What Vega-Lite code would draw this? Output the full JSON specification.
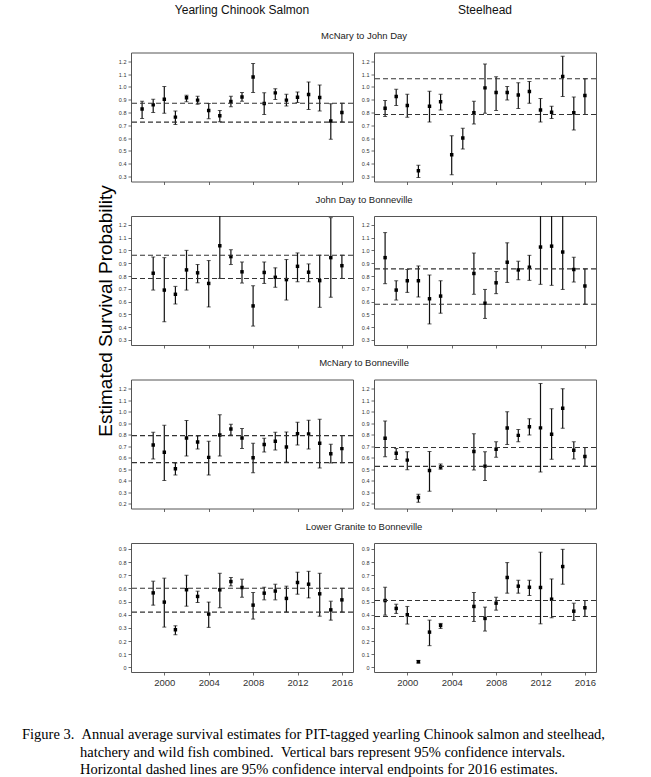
{
  "$schema": "https://vega.github.io/schema/vega-lite/v6.json",
  "padding": {"left": 22, "top": 4, "right": 5, "bottom": 0},
  "background": "white",
  "datasets": {
    "est": [
      {"sp":"C","r":"MJ","year":1998,"est":0.827,"lo":0.754,"hi":0.889},
      {"sp":"C","r":"MJ","year":1999,"est":0.86,"lo":0.80,"hi":0.904},
      {"sp":"C","r":"MJ","year":2000,"est":0.904,"lo":0.795,"hi":1.003},
      {"sp":"C","r":"MJ","year":2001,"est":0.764,"lo":0.707,"hi":0.811},
      {"sp":"C","r":"MJ","year":2002,"est":0.915,"lo":0.884,"hi":0.935},
      {"sp":"C","r":"MJ","year":2003,"est":0.897,"lo":0.865,"hi":0.928},
      {"sp":"C","r":"MJ","year":2004,"est":0.816,"lo":0.751,"hi":0.871},
      {"sp":"C","r":"MJ","year":2005,"est":0.775,"lo":0.728,"hi":0.816},
      {"sp":"C","r":"MJ","year":2006,"est":0.886,"lo":0.845,"hi":0.928},
      {"sp":"C","r":"MJ","year":2007,"est":0.922,"lo":0.889,"hi":0.956},
      {"sp":"C","r":"MJ","year":2008,"est":1.078,"lo":0.956,"hi":1.184},
      {"sp":"C","r":"MJ","year":2009,"est":0.871,"lo":0.785,"hi":0.954},
      {"sp":"C","r":"MJ","year":2010,"est":0.954,"lo":0.902,"hi":0.987},
      {"sp":"C","r":"MJ","year":2011,"est":0.897,"lo":0.852,"hi":0.943},
      {"sp":"C","r":"MJ","year":2012,"est":0.92,"lo":0.878,"hi":0.961},
      {"sp":"C","r":"MJ","year":2013,"est":0.941,"lo":0.824,"hi":1.039},
      {"sp":"C","r":"MJ","year":2014,"est":0.917,"lo":0.811,"hi":1.016},
      {"sp":"C","r":"MJ","year":2015,"est":0.733,"lo":0.59,"hi":0.868},
      {"sp":"C","r":"MJ","year":2016,"est":0.80,"lo":0.725,"hi":0.873},

      {"sp":"S","r":"MJ","year":1998,"est":0.834,"lo":0.769,"hi":0.894},
      {"sp":"S","r":"MJ","year":1999,"est":0.925,"lo":0.855,"hi":0.982},
      {"sp":"S","r":"MJ","year":2000,"est":0.855,"lo":0.764,"hi":0.943},
      {"sp":"S","r":"MJ","year":2001,"est":0.344,"lo":0.292,"hi":0.388},
      {"sp":"S","r":"MJ","year":2002,"est":0.85,"lo":0.725,"hi":0.967},
      {"sp":"S","r":"MJ","year":2003,"est":0.884,"lo":0.819,"hi":0.943},
      {"sp":"S","r":"MJ","year":2004,"est":0.469,"lo":0.313,"hi":0.619},
      {"sp":"S","r":"MJ","year":2005,"est":0.601,"lo":0.515,"hi":0.676},
      {"sp":"S","r":"MJ","year":2006,"est":0.798,"lo":0.71,"hi":0.889},
      {"sp":"S","r":"MJ","year":2007,"est":0.993,"lo":0.795,"hi":1.179},
      {"sp":"S","r":"MJ","year":2008,"est":0.956,"lo":0.816,"hi":1.081},
      {"sp":"S","r":"MJ","year":2009,"est":0.956,"lo":0.899,"hi":1.003},
      {"sp":"S","r":"MJ","year":2010,"est":0.938,"lo":0.832,"hi":1.034},
      {"sp":"S","r":"MJ","year":2011,"est":0.964,"lo":0.873,"hi":1.042},
      {"sp":"S","r":"MJ","year":2012,"est":0.819,"lo":0.725,"hi":0.91},
      {"sp":"S","r":"MJ","year":2013,"est":0.803,"lo":0.754,"hi":0.85},
      {"sp":"S","r":"MJ","year":2014,"est":1.083,"lo":0.925,"hi":1.241},
      {"sp":"S","r":"MJ","year":2015,"est":0.798,"lo":0.663,"hi":0.922},
      {"sp":"S","r":"MJ","year":2016,"est":0.933,"lo":0.785,"hi":1.065},

      {"sp":"C","r":"JB","year":1999,"est":0.822,"lo":0.69,"hi":0.949},
      {"sp":"C","r":"JB","year":2000,"est":0.69,"lo":0.442,"hi":0.944},
      {"sp":"C","r":"JB","year":2001,"est":0.657,"lo":0.581,"hi":0.719},
      {"sp":"C","r":"JB","year":2002,"est":0.848,"lo":0.69,"hi":1.001},
      {"sp":"C","r":"JB","year":2003,"est":0.825,"lo":0.747,"hi":0.89},
      {"sp":"C","r":"JB","year":2004,"est":0.742,"lo":0.558,"hi":0.921},
      {"sp":"C","r":"JB","year":2005,"est":1.037,"lo":0.781,"hi":1.30},
      {"sp":"C","r":"JB","year":2006,"est":0.952,"lo":0.89,"hi":1.006},
      {"sp":"C","r":"JB","year":2007,"est":0.833,"lo":0.745,"hi":0.91},
      {"sp":"C","r":"JB","year":2008,"est":0.566,"lo":0.408,"hi":0.724},
      {"sp":"C","r":"JB","year":2009,"est":0.828,"lo":0.742,"hi":0.91},
      {"sp":"C","r":"JB","year":2010,"est":0.79,"lo":0.712,"hi":0.864},
      {"sp":"C","r":"JB","year":2011,"est":0.772,"lo":0.612,"hi":0.929},
      {"sp":"C","r":"JB","year":2012,"est":0.876,"lo":0.755,"hi":0.981},
      {"sp":"C","r":"JB","year":2013,"est":0.83,"lo":0.755,"hi":0.895},
      {"sp":"C","r":"JB","year":2014,"est":0.764,"lo":0.555,"hi":0.963},
      {"sp":"C","r":"JB","year":2015,"est":0.944,"lo":0.634,"hi":1.257},
      {"sp":"C","r":"JB","year":2016,"est":0.881,"lo":0.781,"hi":0.963},

      {"sp":"S","r":"JB","year":1998,"est":0.944,"lo":0.74,"hi":1.14},
      {"sp":"S","r":"JB","year":1999,"est":0.69,"lo":0.612,"hi":0.763},
      {"sp":"S","r":"JB","year":2000,"est":0.763,"lo":0.672,"hi":0.851},
      {"sp":"S","r":"JB","year":2001,"est":0.763,"lo":0.636,"hi":0.879},
      {"sp":"S","r":"JB","year":2002,"est":0.622,"lo":0.425,"hi":0.808},
      {"sp":"S","r":"JB","year":2003,"est":0.643,"lo":0.509,"hi":0.763},
      {"sp":"S","r":"JB","year":2006,"est":0.82,"lo":0.657,"hi":0.98},
      {"sp":"S","r":"JB","year":2007,"est":0.587,"lo":0.468,"hi":0.695},
      {"sp":"S","r":"JB","year":2008,"est":0.747,"lo":0.662,"hi":0.835},
      {"sp":"S","r":"JB","year":2009,"est":0.908,"lo":0.75,"hi":1.06},
      {"sp":"S","r":"JB","year":2010,"est":0.848,"lo":0.771,"hi":0.916},
      {"sp":"S","r":"JB","year":2011,"est":0.869,"lo":0.766,"hi":0.962},
      {"sp":"S","r":"JB","year":2012,"est":1.027,"lo":0.735,"hi":1.30},
      {"sp":"S","r":"JB","year":2013,"est":1.034,"lo":0.727,"hi":1.30},
      {"sp":"S","r":"JB","year":2014,"est":0.988,"lo":0.695,"hi":1.30},
      {"sp":"S","r":"JB","year":2015,"est":0.851,"lo":0.753,"hi":0.947},
      {"sp":"S","r":"JB","year":2016,"est":0.722,"lo":0.579,"hi":0.856},

      {"sp":"C","r":"MB","year":1999,"est":0.712,"lo":0.59,"hi":0.822},
      {"sp":"C","r":"MB","year":2000,"est":0.648,"lo":0.403,"hi":0.883},
      {"sp":"C","r":"MB","year":2001,"est":0.505,"lo":0.45,"hi":0.555},
      {"sp":"C","r":"MB","year":2002,"est":0.773,"lo":0.616,"hi":0.924},
      {"sp":"C","r":"MB","year":2003,"est":0.738,"lo":0.677,"hi":0.79},
      {"sp":"C","r":"MB","year":2004,"est":0.604,"lo":0.45,"hi":0.744},
      {"sp":"C","r":"MB","year":2005,"est":0.799,"lo":0.616,"hi":0.973},
      {"sp":"C","r":"MB","year":2006,"est":0.851,"lo":0.799,"hi":0.892},
      {"sp":"C","r":"MB","year":2007,"est":0.773,"lo":0.68,"hi":0.854},
      {"sp":"C","r":"MB","year":2008,"est":0.601,"lo":0.47,"hi":0.726},
      {"sp":"C","r":"MB","year":2009,"est":0.715,"lo":0.651,"hi":0.77},
      {"sp":"C","r":"MB","year":2010,"est":0.744,"lo":0.668,"hi":0.822},
      {"sp":"C","r":"MB","year":2011,"est":0.694,"lo":0.563,"hi":0.825},
      {"sp":"C","r":"MB","year":2012,"est":0.81,"lo":0.712,"hi":0.909},
      {"sp":"C","r":"MB","year":2013,"est":0.808,"lo":0.677,"hi":0.927},
      {"sp":"C","r":"MB","year":2014,"est":0.726,"lo":0.511,"hi":0.935},
      {"sp":"C","r":"MB","year":2015,"est":0.636,"lo":0.555,"hi":0.717},
      {"sp":"C","r":"MB","year":2016,"est":0.68,"lo":0.558,"hi":0.793},

      {"sp":"S","r":"MB","year":1998,"est":0.77,"lo":0.61,"hi":0.92},
      {"sp":"S","r":"MB","year":1999,"est":0.64,"lo":0.586,"hi":0.68},
      {"sp":"S","r":"MB","year":2000,"est":0.58,"lo":0.496,"hi":0.652},
      {"sp":"S","r":"MB","year":2001,"est":0.255,"lo":0.215,"hi":0.284},
      {"sp":"S","r":"MB","year":2002,"est":0.49,"lo":0.31,"hi":0.655},
      {"sp":"S","r":"MB","year":2003,"est":0.52,"lo":0.5,"hi":0.546},
      {"sp":"S","r":"MB","year":2006,"est":0.655,"lo":0.494,"hi":0.81},
      {"sp":"S","r":"MB","year":2007,"est":0.528,"lo":0.403,"hi":0.653},
      {"sp":"S","r":"MB","year":2008,"est":0.675,"lo":0.604,"hi":0.74},
      {"sp":"S","r":"MB","year":2009,"est":0.858,"lo":0.715,"hi":1.0},
      {"sp":"S","r":"MB","year":2010,"est":0.795,"lo":0.74,"hi":0.846},
      {"sp":"S","r":"MB","year":2011,"est":0.87,"lo":0.799,"hi":0.94},
      {"sp":"S","r":"MB","year":2012,"est":0.86,"lo":0.476,"hi":1.245},
      {"sp":"S","r":"MB","year":2013,"est":0.805,"lo":0.587,"hi":1.025},
      {"sp":"S","r":"MB","year":2014,"est":1.03,"lo":0.857,"hi":1.2},
      {"sp":"S","r":"MB","year":2015,"est":0.665,"lo":0.59,"hi":0.74},
      {"sp":"S","r":"MB","year":2016,"est":0.612,"lo":0.526,"hi":0.69},

      {"sp":"C","r":"LB","year":1999,"est":0.566,"lo":0.473,"hi":0.655},
      {"sp":"C","r":"LB","year":2000,"est":0.496,"lo":0.306,"hi":0.678},
      {"sp":"C","r":"LB","year":2001,"est":0.286,"lo":0.248,"hi":0.316},
      {"sp":"C","r":"LB","year":2002,"est":0.59,"lo":0.465,"hi":0.70},
      {"sp":"C","r":"LB","year":2003,"est":0.539,"lo":0.493,"hi":0.579},
      {"sp":"C","r":"LB","year":2004,"est":0.405,"lo":0.304,"hi":0.496},
      {"sp":"C","r":"LB","year":2005,"est":0.589,"lo":0.453,"hi":0.715},
      {"sp":"C","r":"LB","year":2006,"est":0.652,"lo":0.619,"hi":0.683},
      {"sp":"C","r":"LB","year":2007,"est":0.607,"lo":0.533,"hi":0.67},
      {"sp":"C","r":"LB","year":2008,"est":0.473,"lo":0.367,"hi":0.569},
      {"sp":"C","r":"LB","year":2009,"est":0.564,"lo":0.513,"hi":0.609},
      {"sp":"C","r":"LB","year":2010,"est":0.58,"lo":0.513,"hi":0.632},
      {"sp":"C","r":"LB","year":2011,"est":0.524,"lo":0.42,"hi":0.617},
      {"sp":"C","r":"LB","year":2012,"est":0.645,"lo":0.556,"hi":0.723},
      {"sp":"C","r":"LB","year":2013,"est":0.632,"lo":0.528,"hi":0.73},
      {"sp":"C","r":"LB","year":2014,"est":0.559,"lo":0.389,"hi":0.715},
      {"sp":"C","r":"LB","year":2015,"est":0.437,"lo":0.359,"hi":0.503},
      {"sp":"C","r":"LB","year":2016,"est":0.513,"lo":0.42,"hi":0.601},

      {"sp":"S","r":"LB","year":1998,"est":0.508,"lo":0.397,"hi":0.609},
      {"sp":"S","r":"LB","year":1999,"est":0.448,"lo":0.41,"hi":0.48},
      {"sp":"S","r":"LB","year":2000,"est":0.40,"lo":0.329,"hi":0.463},
      {"sp":"S","r":"LB","year":2001,"est":0.043,"lo":0.033,"hi":0.053},
      {"sp":"S","r":"LB","year":2002,"est":0.268,"lo":0.165,"hi":0.359},
      {"sp":"S","r":"LB","year":2003,"est":0.319,"lo":0.296,"hi":0.334},
      {"sp":"S","r":"LB","year":2006,"est":0.463,"lo":0.349,"hi":0.569},
      {"sp":"S","r":"LB","year":2007,"est":0.372,"lo":0.276,"hi":0.458},
      {"sp":"S","r":"LB","year":2008,"est":0.488,"lo":0.435,"hi":0.533},
      {"sp":"S","r":"LB","year":2009,"est":0.683,"lo":0.564,"hi":0.796},
      {"sp":"S","r":"LB","year":2010,"est":0.617,"lo":0.564,"hi":0.662},
      {"sp":"S","r":"LB","year":2011,"est":0.609,"lo":0.546,"hi":0.662},
      {"sp":"S","r":"LB","year":2012,"est":0.607,"lo":0.331,"hi":0.875},
      {"sp":"S","r":"LB","year":2013,"est":0.518,"lo":0.377,"hi":0.672},
      {"sp":"S","r":"LB","year":2014,"est":0.766,"lo":0.632,"hi":0.897},
      {"sp":"S","r":"LB","year":2015,"est":0.427,"lo":0.357,"hi":0.488},
      {"sp":"S","r":"LB","year":2016,"est":0.453,"lo":0.387,"hi":0.508}
    ],
    "ci": [
      {"sp":"C","r":"MJ","v":0.873},{"sp":"C","r":"MJ","v":0.725},
      {"sp":"S","r":"MJ","v":1.065},{"sp":"S","r":"MJ","v":0.785},
      {"sp":"C","r":"JB","v":0.963},{"sp":"C","r":"JB","v":0.781},
      {"sp":"S","r":"JB","v":0.856},{"sp":"S","r":"JB","v":0.579},
      {"sp":"C","r":"MB","v":0.793},{"sp":"C","r":"MB","v":0.558},
      {"sp":"S","r":"MB","v":0.69},{"sp":"S","r":"MB","v":0.526},
      {"sp":"C","r":"LB","v":0.601},{"sp":"C","r":"LB","v":0.42},
      {"sp":"S","r":"LB","v":0.508},{"sp":"S","r":"LB","v":0.387}
    ]
  },
  "title": {
    "text": [
      "Figure 3.\u00a0\u00a0Annual average survival estimates for PIT-tagged yearling Chinook salmon and steelhead,",
      "\u200b\u00a0\u00a0\u00a0\u00a0\u00a0\u00a0\u00a0\u00a0\u00a0\u00a0\u00a0\u00a0\u00a0\u00a0\u00a0\u00a0hatchery and wild fish combined.\u00a0\u00a0Vertical bars represent 95% confidence intervals.",
      "\u200b\u00a0\u00a0\u00a0\u00a0\u00a0\u00a0\u00a0\u00a0\u00a0\u00a0\u00a0\u00a0\u00a0\u00a0\u00a0\u00a0Horizontal dashed lines are 95% confidence interval endpoints for 2016 estimates."
    ],
    "orient": "bottom",
    "anchor": "start",
    "frame": "group",
    "dx": -109,
    "offset": 41,
    "font": "Liberation Serif",
    "fontSize": 14.5,
    "fontWeight": "normal",
    "color": "#000",
    "lineHeight": 17.5
  },
  "columns": 2,
  "bounds": "flush",
  "spacing": {"row": 34.5, "column": 21},
  "concat": [
    {"width": 222, "height": 1, "view": {"stroke": null}, "data": {"values": []}, "mark": "point", "encoding": {},
     "title": {"text": "Yearling Chinook Salmon", "fontSize": 12, "offset": 0, "color": "#111"}},
    {"width": 222, "height": 1, "view": {"stroke": null}, "data": {"values": []}, "mark": "point", "encoding": {},
     "title": {"text": "Steelhead", "fontSize": 12, "offset": 0, "color": "#111"}},

    {"width": 222, "height": 129,
     "title": {"text": "McNary to John Day", "anchor": "end", "align": "center", "dx": 10.5, "offset": 12, "fontSize": 9.5},
     "layer": [
      {"data": {"name": "est"}, "transform": [{"filter": "datum.sp==='C' && datum.r==='MJ'"}],
       "encoding": {"x": {"field": "year", "type": "quantitative", "scale": {"domain": [1997, 2017], "nice": false, "zero": false}, "axis": {"values": [2000,2004,2008,2012,2016], "labels": false, "title": null}}},
       "layer": [
        {"mark": {"type": "rule", "clip": true, "color": "#111", "strokeWidth": 1.2},
         "encoding": {"y": {"field": "lo", "type": "quantitative", "scale": {"domain": [0.26, 1.27], "nice": false, "zero": false}, "axis": {"values": [0.3,0.4,0.5,0.6,0.7,0.8,0.9,1.0,1.1,1.2], "tickCount": 30, "format": ".1f", "title": "Estimated Survival Probability", "titleFontSize": 19, "titleFontWeight": "normal", "titleColor": "#000", "titlePadding": 3, "titleY": 258, "titleFont": "Liberation Sans"}}, "y2": {"field": "hi"}}},
        {"mark": {"type": "tick", "orient": "horizontal", "size": 4, "thickness": 1, "clip": true, "color": "#111"}, "encoding": {"y": {"field": "lo", "type": "quantitative"}}},
        {"mark": {"type": "tick", "orient": "horizontal", "size": 4, "thickness": 1, "clip": true, "color": "#111"}, "encoding": {"y": {"field": "hi", "type": "quantitative"}}},
        {"mark": {"type": "square", "size": 12, "filled": true, "opacity": 1, "color": "#000", "clip": true}, "encoding": {"y": {"field": "est", "type": "quantitative"}}}
       ]},
      {"data": {"name": "ci"}, "transform": [{"filter": "datum.sp==='C' && datum.r==='MJ'"}],
       "mark": {"type": "rule", "strokeDash": [5, 3], "color": "#333", "strokeWidth": 1.1},
       "encoding": {"y": {"field": "v", "type": "quantitative"}}}
     ]},
    {"width": 222, "height": 129,
     "layer": [
      {"data": {"name": "est"}, "transform": [{"filter": "datum.sp==='S' && datum.r==='MJ'"}],
       "encoding": {"x": {"field": "year", "type": "quantitative", "scale": {"domain": [1997, 2017], "nice": false, "zero": false}, "axis": {"values": [2000,2004,2008,2012,2016], "labels": false, "title": null}}},
       "layer": [
        {"mark": {"type": "rule", "clip": true, "color": "#111", "strokeWidth": 1.2},
         "encoding": {"y": {"field": "lo", "type": "quantitative", "scale": {"domain": [0.26, 1.27], "nice": false, "zero": false}, "axis": {"values": [0.3,0.4,0.5,0.6,0.7,0.8,0.9,1.0,1.1,1.2], "tickCount": 30, "format": ".1f", "title": null}}, "y2": {"field": "hi"}}},
        {"mark": {"type": "tick", "orient": "horizontal", "size": 4, "thickness": 1, "clip": true, "color": "#111"}, "encoding": {"y": {"field": "lo", "type": "quantitative"}}},
        {"mark": {"type": "tick", "orient": "horizontal", "size": 4, "thickness": 1, "clip": true, "color": "#111"}, "encoding": {"y": {"field": "hi", "type": "quantitative"}}},
        {"mark": {"type": "square", "size": 12, "filled": true, "opacity": 1, "color": "#000", "clip": true}, "encoding": {"y": {"field": "est", "type": "quantitative"}}}
       ]},
      {"data": {"name": "ci"}, "transform": [{"filter": "datum.sp==='S' && datum.r==='MJ'"}],
       "mark": {"type": "rule", "strokeDash": [5, 3], "color": "#333", "strokeWidth": 1.1},
       "encoding": {"y": {"field": "v", "type": "quantitative"}}}
     ]},

    {"width": 222, "height": 129,
     "title": {"text": "John Day to Bonneville", "anchor": "end", "align": "center", "dx": 10.5, "offset": 12, "fontSize": 9.5},
     "layer": [
      {"data": {"name": "est"}, "transform": [{"filter": "datum.sp==='C' && datum.r==='JB'"}],
       "encoding": {"x": {"field": "year", "type": "quantitative", "scale": {"domain": [1997, 2017], "nice": false, "zero": false}, "axis": {"values": [2000,2004,2008,2012,2016], "labels": false, "title": null}}},
       "layer": [
        {"mark": {"type": "rule", "clip": true, "color": "#111", "strokeWidth": 1.2},
         "encoding": {"y": {"field": "lo", "type": "quantitative", "scale": {"domain": [0.26, 1.27], "nice": false, "zero": false}, "axis": {"values": [0.3,0.4,0.5,0.6,0.7,0.8,0.9,1.0,1.1,1.2], "tickCount": 30, "format": ".1f", "title": null}}, "y2": {"field": "hi"}}},
        {"mark": {"type": "tick", "orient": "horizontal", "size": 4, "thickness": 1, "clip": true, "color": "#111"}, "encoding": {"y": {"field": "lo", "type": "quantitative"}}},
        {"mark": {"type": "tick", "orient": "horizontal", "size": 4, "thickness": 1, "clip": true, "color": "#111"}, "encoding": {"y": {"field": "hi", "type": "quantitative"}}},
        {"mark": {"type": "square", "size": 12, "filled": true, "opacity": 1, "color": "#000", "clip": true}, "encoding": {"y": {"field": "est", "type": "quantitative"}}}
       ]},
      {"data": {"name": "ci"}, "transform": [{"filter": "datum.sp==='C' && datum.r==='JB'"}],
       "mark": {"type": "rule", "strokeDash": [5, 3], "color": "#333", "strokeWidth": 1.1},
       "encoding": {"y": {"field": "v", "type": "quantitative"}}}
     ]},
    {"width": 222, "height": 129,
     "layer": [
      {"data": {"name": "est"}, "transform": [{"filter": "datum.sp==='S' && datum.r==='JB'"}],
       "encoding": {"x": {"field": "year", "type": "quantitative", "scale": {"domain": [1997, 2017], "nice": false, "zero": false}, "axis": {"values": [2000,2004,2008,2012,2016], "labels": false, "title": null}}},
       "layer": [
        {"mark": {"type": "rule", "clip": true, "color": "#111", "strokeWidth": 1.2},
         "encoding": {"y": {"field": "lo", "type": "quantitative", "scale": {"domain": [0.26, 1.27], "nice": false, "zero": false}, "axis": {"values": [0.3,0.4,0.5,0.6,0.7,0.8,0.9,1.0,1.1,1.2], "tickCount": 30, "format": ".1f", "title": null}}, "y2": {"field": "hi"}}},
        {"mark": {"type": "tick", "orient": "horizontal", "size": 4, "thickness": 1, "clip": true, "color": "#111"}, "encoding": {"y": {"field": "lo", "type": "quantitative"}}},
        {"mark": {"type": "tick", "orient": "horizontal", "size": 4, "thickness": 1, "clip": true, "color": "#111"}, "encoding": {"y": {"field": "hi", "type": "quantitative"}}},
        {"mark": {"type": "square", "size": 12, "filled": true, "opacity": 1, "color": "#000", "clip": true}, "encoding": {"y": {"field": "est", "type": "quantitative"}}}
       ]},
      {"data": {"name": "ci"}, "transform": [{"filter": "datum.sp==='S' && datum.r==='JB'"}],
       "mark": {"type": "rule", "strokeDash": [5, 3], "color": "#333", "strokeWidth": 1.1},
       "encoding": {"y": {"field": "v", "type": "quantitative"}}}
     ]},

    {"width": 222, "height": 129,
     "title": {"text": "McNary to Bonneville", "anchor": "end", "align": "center", "dx": 10.5, "offset": 12, "fontSize": 9.5},
     "layer": [
      {"data": {"name": "est"}, "transform": [{"filter": "datum.sp==='C' && datum.r==='MB'"}],
       "encoding": {"x": {"field": "year", "type": "quantitative", "scale": {"domain": [1997, 2017], "nice": false, "zero": false}, "axis": {"values": [2000,2004,2008,2012,2016], "labels": false, "title": null}}},
       "layer": [
        {"mark": {"type": "rule", "clip": true, "color": "#111", "strokeWidth": 1.2},
         "encoding": {"y": {"field": "lo", "type": "quantitative", "scale": {"domain": [0.16, 1.28], "nice": false, "zero": false}, "axis": {"values": [0.2,0.3,0.4,0.5,0.6,0.7,0.8,0.9,1.0,1.1,1.2], "tickCount": 30, "format": ".1f", "title": null}}, "y2": {"field": "hi"}}},
        {"mark": {"type": "tick", "orient": "horizontal", "size": 4, "thickness": 1, "clip": true, "color": "#111"}, "encoding": {"y": {"field": "lo", "type": "quantitative"}}},
        {"mark": {"type": "tick", "orient": "horizontal", "size": 4, "thickness": 1, "clip": true, "color": "#111"}, "encoding": {"y": {"field": "hi", "type": "quantitative"}}},
        {"mark": {"type": "square", "size": 12, "filled": true, "opacity": 1, "color": "#000", "clip": true}, "encoding": {"y": {"field": "est", "type": "quantitative"}}}
       ]},
      {"data": {"name": "ci"}, "transform": [{"filter": "datum.sp==='C' && datum.r==='MB'"}],
       "mark": {"type": "rule", "strokeDash": [5, 3], "color": "#333", "strokeWidth": 1.1},
       "encoding": {"y": {"field": "v", "type": "quantitative"}}}
     ]},
    {"width": 222, "height": 129,
     "layer": [
      {"data": {"name": "est"}, "transform": [{"filter": "datum.sp==='S' && datum.r==='MB'"}],
       "encoding": {"x": {"field": "year", "type": "quantitative", "scale": {"domain": [1997, 2017], "nice": false, "zero": false}, "axis": {"values": [2000,2004,2008,2012,2016], "labels": false, "title": null}}},
       "layer": [
        {"mark": {"type": "rule", "clip": true, "color": "#111", "strokeWidth": 1.2},
         "encoding": {"y": {"field": "lo", "type": "quantitative", "scale": {"domain": [0.16, 1.28], "nice": false, "zero": false}, "axis": {"values": [0.2,0.3,0.4,0.5,0.6,0.7,0.8,0.9,1.0,1.1,1.2], "tickCount": 30, "format": ".1f", "title": null}}, "y2": {"field": "hi"}}},
        {"mark": {"type": "tick", "orient": "horizontal", "size": 4, "thickness": 1, "clip": true, "color": "#111"}, "encoding": {"y": {"field": "lo", "type": "quantitative"}}},
        {"mark": {"type": "tick", "orient": "horizontal", "size": 4, "thickness": 1, "clip": true, "color": "#111"}, "encoding": {"y": {"field": "hi", "type": "quantitative"}}},
        {"mark": {"type": "square", "size": 12, "filled": true, "opacity": 1, "color": "#000", "clip": true}, "encoding": {"y": {"field": "est", "type": "quantitative"}}}
       ]},
      {"data": {"name": "ci"}, "transform": [{"filter": "datum.sp==='S' && datum.r==='MB'"}],
       "mark": {"type": "rule", "strokeDash": [5, 3], "color": "#333", "strokeWidth": 1.1},
       "encoding": {"y": {"field": "v", "type": "quantitative"}}}
     ]},

    {"width": 222, "height": 129,
     "title": {"text": "Lower Granite to Bonneville", "anchor": "end", "align": "center", "dx": 10.5, "offset": 12, "fontSize": 9.5},
     "layer": [
      {"data": {"name": "est"}, "transform": [{"filter": "datum.sp==='C' && datum.r==='LB'"}],
       "encoding": {"x": {"field": "year", "type": "quantitative", "scale": {"domain": [1997, 2017], "nice": false, "zero": false}, "axis": {"values": [2000,2004,2008,2012,2016], "format": "d", "labels": true, "title": null}}},
       "layer": [
        {"mark": {"type": "rule", "clip": true, "color": "#111", "strokeWidth": 1.2},
         "encoding": {"y": {"field": "lo", "type": "quantitative", "scale": {"domain": [-0.035, 0.945], "nice": false, "zero": false}, "axis": {"values": [0,0.1,0.2,0.3,0.4,0.5,0.6,0.7,0.8,0.9], "tickCount": 30, "format": ".1~f", "title": null}}, "y2": {"field": "hi"}}},
        {"mark": {"type": "tick", "orient": "horizontal", "size": 4, "thickness": 1, "clip": true, "color": "#111"}, "encoding": {"y": {"field": "lo", "type": "quantitative"}}},
        {"mark": {"type": "tick", "orient": "horizontal", "size": 4, "thickness": 1, "clip": true, "color": "#111"}, "encoding": {"y": {"field": "hi", "type": "quantitative"}}},
        {"mark": {"type": "square", "size": 12, "filled": true, "opacity": 1, "color": "#000", "clip": true}, "encoding": {"y": {"field": "est", "type": "quantitative"}}}
       ]},
      {"data": {"name": "ci"}, "transform": [{"filter": "datum.sp==='C' && datum.r==='LB'"}],
       "mark": {"type": "rule", "strokeDash": [5, 3], "color": "#333", "strokeWidth": 1.1},
       "encoding": {"y": {"field": "v", "type": "quantitative"}}}
     ]},
    {"width": 222, "height": 129,
     "layer": [
      {"data": {"name": "est"}, "transform": [{"filter": "datum.sp==='S' && datum.r==='LB'"}],
       "encoding": {"x": {"field": "year", "type": "quantitative", "scale": {"domain": [1997, 2017], "nice": false, "zero": false}, "axis": {"values": [2000,2004,2008,2012,2016], "format": "d", "labels": true, "title": null}}},
       "layer": [
        {"mark": {"type": "rule", "clip": true, "color": "#111", "strokeWidth": 1.2},
         "encoding": {"y": {"field": "lo", "type": "quantitative", "scale": {"domain": [-0.035, 0.945], "nice": false, "zero": false}, "axis": {"values": [0,0.1,0.2,0.3,0.4,0.5,0.6,0.7,0.8,0.9], "tickCount": 30, "format": ".1~f", "title": null}}, "y2": {"field": "hi"}}},
        {"mark": {"type": "tick", "orient": "horizontal", "size": 4, "thickness": 1, "clip": true, "color": "#111"}, "encoding": {"y": {"field": "lo", "type": "quantitative"}}},
        {"mark": {"type": "tick", "orient": "horizontal", "size": 4, "thickness": 1, "clip": true, "color": "#111"}, "encoding": {"y": {"field": "hi", "type": "quantitative"}}},
        {"mark": {"type": "square", "size": 12, "filled": true, "opacity": 1, "color": "#000", "clip": true}, "encoding": {"y": {"field": "est", "type": "quantitative"}}}
       ]},
      {"data": {"name": "ci"}, "transform": [{"filter": "datum.sp==='S' && datum.r==='LB'"}],
       "mark": {"type": "rule", "strokeDash": [5, 3], "color": "#333", "strokeWidth": 1.1},
       "encoding": {"y": {"field": "v", "type": "quantitative"}}}
     ]}
  ],
  "config": {
    "font": "Liberation Sans",
    "view": {"stroke": "#555", "strokeWidth": 1},
    "title": {"font": "Liberation Sans", "fontWeight": "normal", "color": "#222"},
    "axis": {"domain": false, "grid": false, "tickColor": "#444", "tickSize": 3, "tickWidth": 0.8, "labelColor": "#333", "labelFont": "Liberation Sans"},
    "axisY": {"labelFontSize": 5.5, "labelPadding": 2, "labelOverlap": false},
    "axisX": {"labelFontSize": 9.5, "labelPadding": 2, "tickCount": 10}
  }
}
